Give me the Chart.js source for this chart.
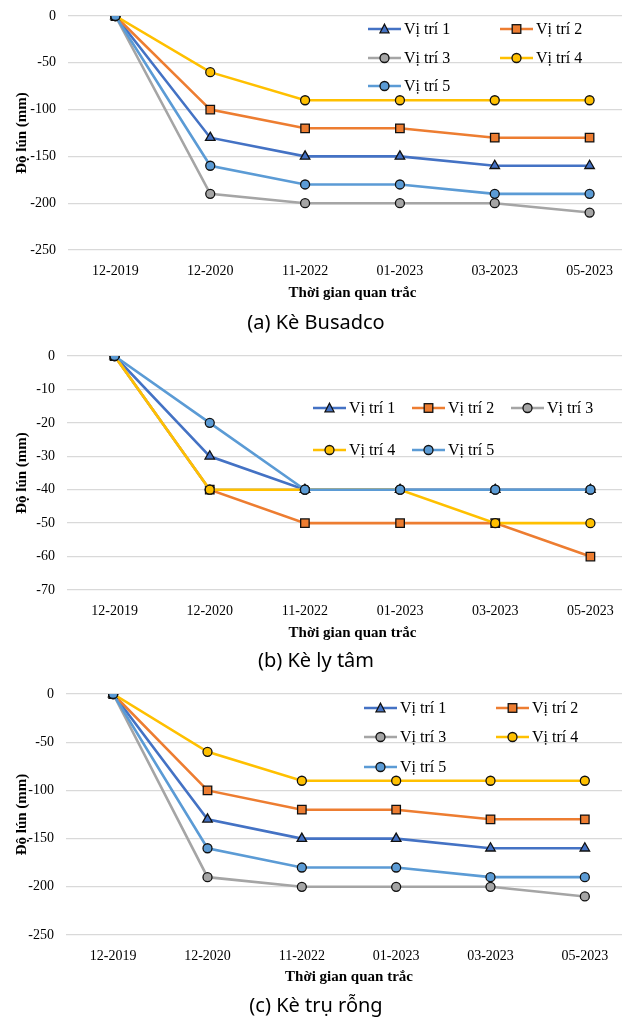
<!DOCTYPE html>
<html lang="vi">
<head>
    <meta charset="UTF-8">
    <title>Độ lún theo thời gian quan trắc</title>
    <script src="https://cdn.jsdelivr.net/npm/chart.js"></script>
    <style>
        html, body { margin: 0; padding: 0; background: #fff; overflow: hidden; }
        .panel { position: absolute; left: 0; width: 622px; height: 340px; overflow: hidden; }
        .panel canvas { position: absolute; left: 0; top: 0; }
        .caption {
            position: absolute; left: 0; width: 632px; text-align: center;
            font-family: "Noto Sans", sans-serif; font-size: 20px; line-height: 24px; color: #000;
        }
        .legend-item {
            position: absolute; height: 18px; display: flex; align-items: center;
            font-family: "Liberation Serif", "Times New Roman", serif; font-size: 16px;
            color: #000; white-space: nowrap;
        }
        .legend-item svg { margin-right: 3px; }
    </style>
</head>
<body>
    <div class="panel" id="panelA" style="top:0">
        <canvas id="chartA" width="650" height="310"></canvas>
        <div class="caption" style="top:310px">(a) Kè Busadco</div>
    </div>
    <div class="panel" id="panelB" style="top:340px">
        <canvas id="chartB" width="650" height="310"></canvas>
        <div class="caption" style="top:308px">(b) Kè ly tâm</div>
    </div>
    <div class="panel" id="panelC" style="top:680px">
        <canvas id="chartC" width="650" height="314"></canvas>
        <div class="caption" style="top:313px">(c) Kè trụ rỗng</div>
    </div>

    <script>
        // categories + series names
        const months = ['12-2019', '12-2020', '11-2022', '01-2023', '03-2023', '05-2023'];
        const seriesNames = ['Vị trí 1', 'Vị trí 2', 'Vị trí 3', 'Vị trí 4', 'Vị trí 5'];

        // (a) Kè Busadco
        const busadcoVT1 = [0, -130, -150, -150, -160, -160];
        const busadcoVT2 = [0, -100, -120, -120, -130, -130];
        const busadcoVT3 = [0, -190, -200, -200, -200, -210];
        const busadcoVT4 = [0, -60, -90, -90, -90, -90];
        const busadcoVT5 = [0, -160, -180, -180, -190, -190];

        // (b) Kè ly tâm
        const lyTamVT1 = [0, -30, -40, -40, -40, -40];
        const lyTamVT2 = [0, -40, -50, -50, -50, -60];
        const lyTamVT3 = [0, -40, -40, -40, -40, -40];
        const lyTamVT4 = [0, -40, -40, -40, -50, -50];
        const lyTamVT5 = [0, -20, -40, -40, -40, -40];

        // (c) Kè trụ rỗng
        const truRongVT1 = [0, -130, -150, -150, -160, -160];
        const truRongVT2 = [0, -100, -120, -120, -130, -130];
        const truRongVT3 = [0, -190, -200, -200, -200, -210];
        const truRongVT4 = [0, -60, -90, -90, -90, -90];
        const truRongVT5 = [0, -160, -180, -180, -190, -190];

        // y tick labels
        const yTicksBig = [0, -50, -100, -150, -200, -250];
        const yTicksSmall = [0, -10, -20, -30, -40, -50, -60, -70];

        // styles (Excel palette)
        const colors = ['#4472C4', '#ED7D31', '#A5A5A5', '#FFC000', '#5B9BD5'];
        const markers = ['triangle', 'rect', 'circle', 'circle', 'circle'];
        const markerRadius = [5.5, 6, 4.5, 4.5, 4.5];

        const serif = '"Liberation Serif", "Times New Roman", serif';

        function makeChart(canvasId, series, yTicks, box) {
            const canvas = document.getElementById(canvasId);
            const W = canvas.width, H = canvas.height;
            const step = Math.abs(yTicks[1] - yTicks[0]);
            return new Chart(canvas.getContext('2d'), {
                type: 'line',
                data: {
                    labels: months,
                    datasets: series.map((values, i) => ({
                        label: seriesNames[i],
                        data: values,
                        borderColor: colors[i],
                        backgroundColor: colors[i],
                        borderWidth: 2.6,
                        pointStyle: markers[i],
                        pointRadius: markerRadius[i],
                        pointBorderColor: '#111',
                        pointBorderWidth: 1.3,
                        pointBackgroundColor: colors[i],
                        tension: 0,
                        // later series on top, like Excel
                        order: series.length - i
                    }))
                },
                options: {
                    responsive: false,
                    animation: false,
                    layout: {
                        autoPadding: false,
                        padding: { top: box.top, left: 0, right: W - box.right, bottom: 0 }
                    },
                    plugins: { legend: { display: false }, tooltip: { enabled: false } },
                    scales: {
                        x: {
                            offset: true,
                            grid: { display: false },
                            border: { display: false },
                            ticks: { color: '#000', padding: 5, font: { family: serif, size: 14 } },
                            title: {
                                display: true, text: 'Thời gian quan trắc', color: '#000',
                                font: { family: serif, size: 15, weight: 'bold' },
                                padding: { top: 0, bottom: 8 }
                            },
                            afterFit: s => { s.height = H - box.bottom; }
                        },
                        y: {
                            min: Math.min(...yTicks),
                            max: Math.max(...yTicks),
                            grid: { color: '#D9D9D9', lineWidth: 1.3, drawTicks: false },
                            border: { display: false },
                            ticks: { stepSize: step, color: '#000', padding: 12, font: { family: serif, size: 14 } },
                            title: {
                                display: true, text: 'Độ lún (mm)', color: '#000',
                                font: { family: serif, size: 15, weight: 'bold' },
                                padding: { top: 13, bottom: 0 }
                            },
                            afterFit: s => {
                                s.width = box.left;
                                // keep the plot top where the padding puts it
                                s.paddingTop = 0;
                                s.paddingBottom = 0;
                            }
                        }
                    }
                }
            });
        }

        function markerSvg(i) {
            const c = colors[i];
            let m;
            if (markers[i] === 'triangle') {
                m = `<polygon points="16.5,2.2 21,10.8 12,10.8" fill="${c}" stroke="#111" stroke-width="1.3"/>`;
            } else if (markers[i] === 'rect') {
                m = `<rect x="12.2" y="2.7" width="8.6" height="8.6" fill="${c}" stroke="#111" stroke-width="1.3"/>`;
            } else {
                m = `<circle cx="16.5" cy="7" r="4.5" fill="${c}" stroke="#111" stroke-width="1.3"/>`;
            }
            return `<svg width="33" height="14"><line x1="0" y1="7" x2="33" y2="7" stroke="${c}" stroke-width="2.6"/>${m}</svg>`;
        }

        function makeLegend(panelId, cols, rows) {
            const panel = document.getElementById(panelId);
            seriesNames.forEach((name, i) => {
                const col = i % cols.length;
                const row = Math.floor(i / cols.length);
                const item = document.createElement('div');
                item.className = 'legend-item';
                item.style.left = cols[col] + 'px';
                item.style.top = (rows[row] - 9) + 'px';
                item.innerHTML = markerSvg(i) + '<span>' + name + '</span>';
                panel.appendChild(item);
            });
        }

        makeChart('chartA', [busadcoVT1, busadcoVT2, busadcoVT3, busadcoVT4, busadcoVT5], yTicksBig,
            { top: 16, left: 68, right: 637, bottom: 250 });
        makeChart('chartB', [lyTamVT1, lyTamVT2, lyTamVT3, lyTamVT4, lyTamVT5], yTicksSmall,
            { top: 16, left: 67, right: 638, bottom: 250 });
        makeChart('chartC', [truRongVT1, truRongVT2, truRongVT3, truRongVT4, truRongVT5], yTicksBig,
            { top: 14, left: 66, right: 632, bottom: 255 });

        makeLegend('panelA', [368, 500], [29, 58, 86]);
        makeLegend('panelB', [313, 412, 511], [68, 110]);
        makeLegend('panelC', [364, 496], [28, 57, 87]);
    </script>
</body>
</html>
